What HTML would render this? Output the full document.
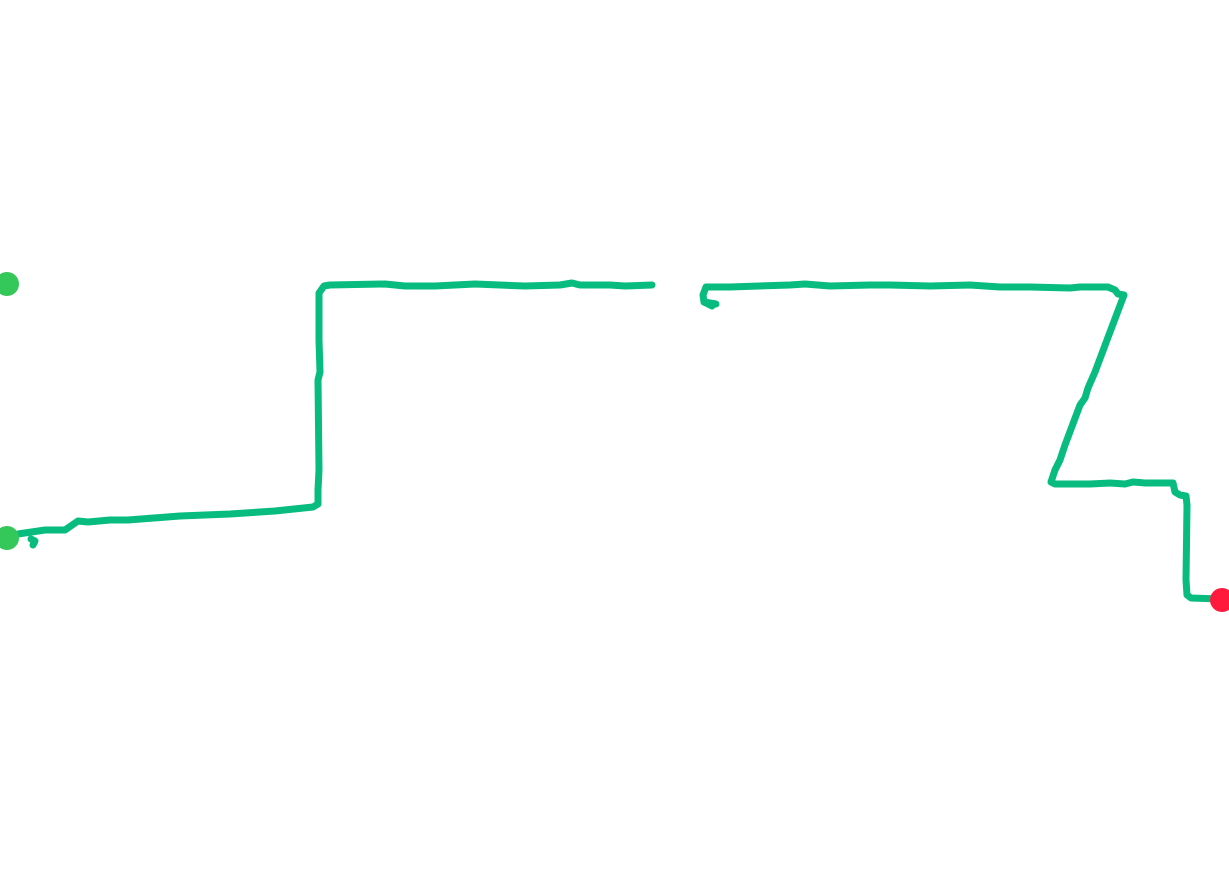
<!DOCTYPE html>
<html><head><meta charset="utf-8"><style>html,body{margin:0;padding:0;background:#fff;width:1229px;height:885px;overflow:hidden}</style></head>
<body>
<svg width="1229" height="885" viewBox="0 0 1229 885" xmlns="http://www.w3.org/2000/svg">
<g fill="none" stroke="#07BC7E" stroke-width="7" stroke-linecap="round" stroke-linejoin="round">
<polyline points="18,534 45,530 65,530 78,521 88,522 110,520 128,520 180,516 230,514 275,511 313,507 318,504 318,490 319,470 318,380 320,372 319,340 319,293 324,286 330,285 385,284 405,286 435,286 475,284 525,286 560,285 572,283 580,285 610,285 625,286 652,285"/>
<polyline points="31,539 35,541 33,545"/>
<polyline points="712,306 704,302 703,295 706,287 730,287 790,285 805,284 830,286 870,285 890,285 930,286 970,285 1000,287 1030,287 1070,288 1080,287 1108,287 1115,290 1118,294 1124,295 1110,332 1095,372 1088,388 1085,398 1080,405 1065,445 1060,460 1055,470 1051,482 1055,484 1090,484 1110,483 1125,484 1133,482 1145,483 1173,483 1175,492 1180,495 1186,496 1187,505 1186,580 1187,595 1191,598 1220,599"/>
<polyline points="704,302 716,304"/>
</g>
<circle cx="7" cy="284" r="12" fill="#34C759"/>
<circle cx="7" cy="538" r="12" fill="#34C759"/>
<circle cx="1222" cy="600" r="12" fill="#FF1A3C"/>
</svg>
</body></html>
